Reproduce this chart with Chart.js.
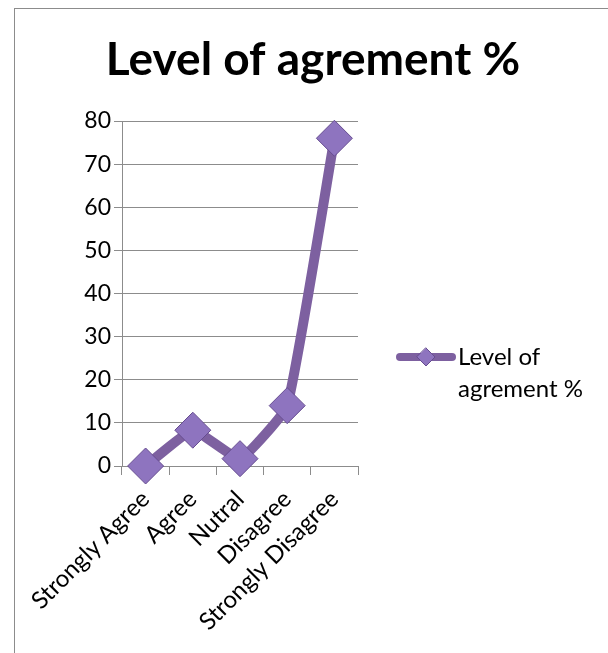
<!DOCTYPE html>
<html>
<head>
<meta charset="utf-8">
<title>Level of agrement %</title>
<script src="https://cdn.jsdelivr.net/npm/chart.js@4/dist/chart.umd.min.js"></script>
<style>
  html, body { margin: 0; padding: 0; background: #fff; overflow: hidden; }
  #frame { position: absolute; left: 14px; top: 8px; width: 600px; height: 720px; border: 1px solid #8c8c8c; }
  canvas { display: block; }
</style>
</head>
<body>
<div id="frame"><canvas id="agreeChart" width="600" height="720"></canvas></div>
<script>
// dati
const categories = ['Strongly Agree', 'Agree', 'Nutral', 'Disagree', 'Strongly Disagree'];
const agreementValues = [0, 8.3, 1.7, 14, 76];
const yTicks = [0, 10, 20, 30, 40, 50, 60, 70, 80];
const seriesName = 'Level of agrement %';
const legendLines = ['Level of', 'agrement %'];

const purpleLine = '#7d60a0';
const purpleFill = '#8e74bf';
const purpleEdge = '#664c90';
const gridGray = '#8c8c8c';
const fontFamily = 'Lato, "Open Sans", sans-serif';

// titolo centrato sull'intera tela (il padding a destra lo sposterebbe)
const wideTitle = {
  id: 'wideTitle',
  afterDraw(chart) {
    const ctx = chart.ctx;
    ctx.save();
    ctx.fillStyle = '#000';
    ctx.font = 'bold 46px ' + fontFamily;
    const w = ctx.measureText(seriesName).width;
    // allarga un po' le lettere per avvicinarsi al Calibri originale
    const extra = Math.max(0, (400 - w) / (seriesName.length - 1));
    ctx.letterSpacing = extra.toFixed(2) + 'px';
    ctx.textAlign = 'center';
    ctx.textBaseline = 'alphabetic';
    ctx.fillText(seriesName, 298 + extra / 2, 66);
    ctx.restore();
  }
};

// legenda a destra, disegnata a mano perché il testo va su due righe
const sideLegend = {
  id: 'sideLegend',
  afterDraw(chart) {
    const ctx = chart.ctx;
    const area = chart.chartArea;
    const x0 = area.right + 38;
    const y0 = area.top + 236;
    ctx.save();
    ctx.strokeStyle = purpleLine;
    ctx.lineWidth = 8;
    ctx.lineCap = 'round';
    ctx.beginPath();
    ctx.moveTo(x0 + 4, y0);
    ctx.lineTo(x0 + 56, y0);
    ctx.stroke();
    // rombo piccolo al centro
    const cx = x0 + 30, r = 9;
    ctx.beginPath();
    ctx.moveTo(cx, y0 - r);
    ctx.lineTo(cx + r, y0);
    ctx.lineTo(cx, y0 + r);
    ctx.lineTo(cx - r, y0);
    ctx.closePath();
    ctx.fillStyle = purpleFill;
    ctx.fill();
    ctx.lineWidth = 1;
    ctx.strokeStyle = purpleEdge;
    ctx.stroke();
    ctx.fillStyle = '#000';
    ctx.font = '24px ' + fontFamily;
    ctx.textBaseline = 'middle';
    ctx.textAlign = 'left';
    legendLines.forEach((line, i) => ctx.fillText(line, x0 + 62, y0 + i * 32));
    ctx.restore();
  }
};

new Chart(document.getElementById('agreeChart'), {
  type: 'line',
  data: {
    labels: categories,
    datasets: [{
      label: seriesName,
      data: agreementValues,
      borderColor: purpleLine,
      borderWidth: 10,
      borderJoinStyle: 'round',
      borderCapStyle: 'round',
      tension: 0.12,
      fill: false,
      clip: false,
      pointStyle: 'rectRot',
      pointRadius: 18,
      pointHoverRadius: 18,
      pointBackgroundColor: purpleFill,
      pointBorderColor: purpleEdge,
      pointBorderWidth: 1
    }]
  },
  options: {
    responsive: false,
    animation: false,
    layout: { padding: { left: 0, right: 257, top: 112, bottom: 53 } },
    plugins: {
      legend: { display: false },
      tooltip: { enabled: false },
      title: { display: false }
    },
    scales: {
      x: {
        offset: true,
        grid: { offset: true, drawOnChartArea: false, drawTicks: true, tickLength: 9, color: gridGray },
        border: { color: gridGray },
        ticks: {
          color: '#000',
          font: { family: fontFamily, size: 24 },
          minRotation: 45,
          maxRotation: 45,
          autoSkip: false,
          padding: 10
        },
        afterFit: (axis) => { axis.height = 210; }
      },
      y: {
        min: 0,
        max: 80,
        afterBuildTicks: (axis) => { axis.ticks = yTicks.map(v => ({ value: v })); },
        grid: { color: gridGray, tickLength: 8 },
        border: { color: gridGray },
        ticks: {
          color: '#000',
          font: { family: fontFamily, size: 23 },
          padding: 3
        },
        afterFit: (axis) => { axis.width = 107; }
      }
    }
  },
  plugins: [wideTitle, sideLegend]
});
</script>
</body>
</html>
